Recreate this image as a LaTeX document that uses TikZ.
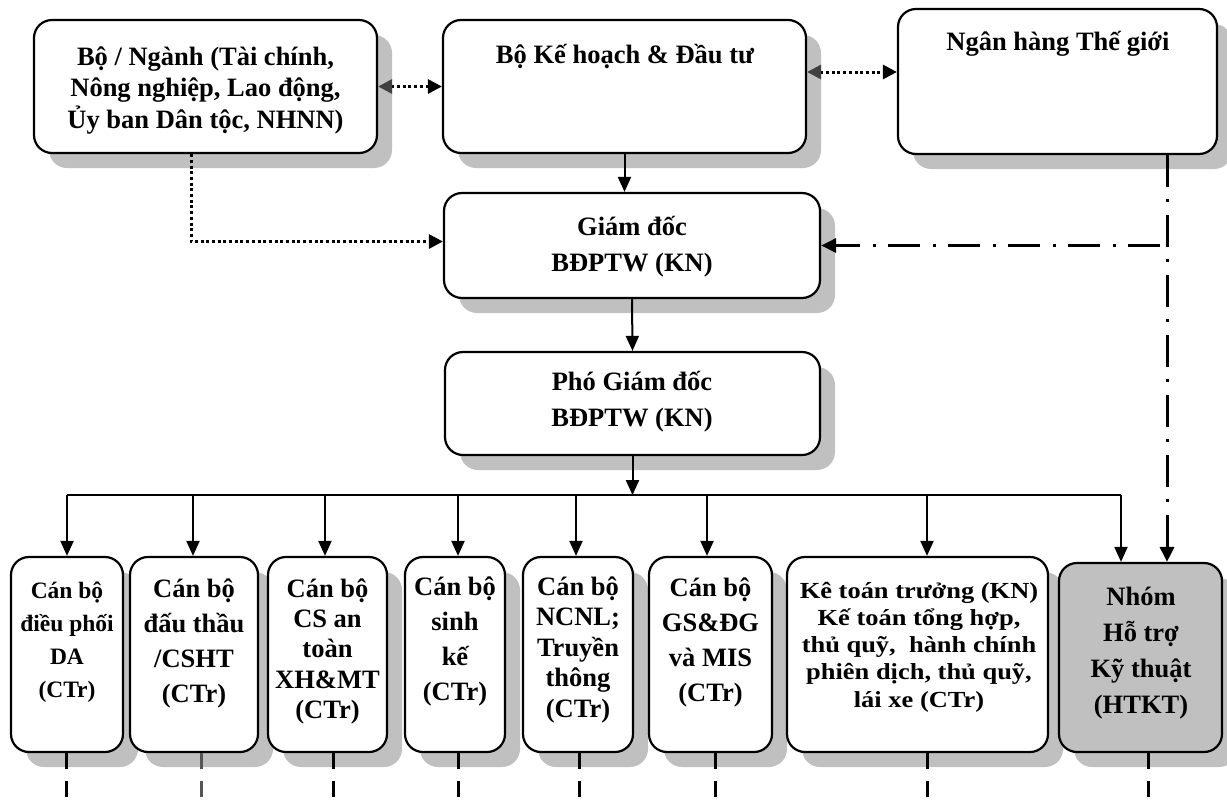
\documentclass[tikz,border=0pt]{standalone}
\usepackage{fontspec}
\usepackage{graphicx}
\setmainfont{Liberation Serif}
\newfontfamily\widefont[FakeStretch=1.15]{Liberation Serif}
\usetikzlibrary{arrows.meta,shadows}
\definecolor{shadowgray}{HTML}{C0C0C0}
\definecolor{tipgray}{HTML}{404040}
\definecolor{linegray}{HTML}{555555}
% strut that fixes the top of the first text line
\newcommand\fl{\vrule height 26pt depth 0pt width 0pt\relax}
\newcommand\fsz[2]{\bfseries\fontsize{#1}{#2}\selectfont}
\begin{document}
\begin{tikzpicture}[x=1pt,y=-1pt,
  box/.style={draw, line width=2.2pt, rounded corners=18pt, fill=white, inner sep=0pt,
    drop shadow={shadow xshift=15pt, shadow yshift=-15pt, fill=shadowgray, opacity=1}},
  lbl/.style={anchor=north, inner sep=0pt, align=center},
  arr/.style={line width=2pt, -{Triangle[length=15pt,width=13pt]}},
  bus/.style={line width=2pt},
  dots/.style={line width=3pt, dash pattern=on 3pt off 2.7pt},
  dotarr/.style={dots, -{Triangle[length=14pt,width=14pt]}},
  twoway/.style={dots, {Triangle[length=14pt,width=14pt,color=tipgray]}-{Triangle[length=14pt,width=14pt]}},
  dashdot/.style={line width=3pt, dash pattern=on 32pt off 12pt on 3pt off 13pt},
  ddarr/.style={dashdot, -{Triangle[length=15pt,width=14pt]}},
  tail/.style={line width=3pt, dash pattern=on 16pt off 12pt},
  toptext/.style={font=\fsz{26.5}{31.5}},
  midtext/.style={font=\fsz{26.5}{36}},
]
\lineskiplimit=-40pt
\useasboundingbox (0,0) rectangle (1227,801);

% ---- upper level
\node[box, minimum width=343pt, minimum height=133pt] (b1) at (205.5,86.5) {};
\node[box, minimum width=363pt, minimum height=133pt] (kh) at (624.5,86.5) {};
\node[box, minimum width=319pt, minimum height=145pt] (wb) at (1057.5,81.5) {};
\node[box, minimum width=376pt, minimum height=105pt] (gd) at (632,245.5) {};
\node[box, minimum width=375pt, minimum height=103pt] (pgd) at (632.5,403.5) {};

\node[lbl, toptext] (tb1) at (205.5,39) {\fl Bộ / Ngành (Tài chính,\\ Nông nghiệp, Lao động,\\ Ủy ban Dân tộc, NHNN)};
\node[lbl, toptext] (tkh) at (625,37) {\fl Bộ Kế hoạch \& Đầu tư};
\node[lbl, toptext] (twb) at (1058,24) {\fl Ngân hàng Thế giới};
\node[lbl, midtext] (tgd) at (632,209) {\fl Giám đốc\\ BĐPTW (KN)};
\node[lbl, midtext] (tpgd) at (632,364) {\fl Phó Giám đốc\\ BĐPTW (KN)};

% ---- staff level
\node[box, minimum width=112pt, minimum height=195pt] (n1) at (67,654.5) {};
\node[box, minimum width=128pt, minimum height=195pt] (n2) at (194,654.5) {};
\node[box, minimum width=119pt, minimum height=195pt] (n3) at (327.5,654.5) {};
\node[box, minimum width=100pt, minimum height=195pt] (n4) at (455,654.5) {};
\node[box, minimum width=110pt, minimum height=195pt] (n5) at (578,654.5) {};
\node[box, minimum width=123pt, minimum height=195pt] (n6) at (710.5,654.5) {};
\node[box, minimum width=261pt, minimum height=195pt] (n7) at (917.5,654.5) {};
\node[box, fill=shadowgray, minimum width=163pt, minimum height=189pt] (n8) at (1140.5,657.5) {};

\node[lbl, font=\fsz{23.5}{33}] (t1) at (67,572)
  {\fl Cán bộ\\ điều phối\\ DA\\ (CTr)};
\node[lbl, font=\fsz{26.5}{35}] (t2) at (194,571)
  {\fl Cán bộ\\ đấu thầu\\ /CSHT\\ (CTr)};
\node[lbl, font=\fsz{26.5}{30.3}] (t3) at (327.5,571)
  {\fl Cán bộ\\ CS an\\ toàn\\ XH\&MT\\ (CTr)};
\node[lbl, font=\fsz{26.5}{35}] (t4) at (455,569)
  {\fl Cán bộ\\ sinh\\ kế\\ (CTr)};
\node[lbl, font=\fsz{26.5}{30.5}] (t5) at (578,569)
  {\fl Cán bộ\\ NCNL;\\ Truyền\\ thông\\ (CTr)};
\node[lbl, font=\fsz{26.5}{35}] (t6) at (710.5,570)
  {\fl Cán bộ\\ GS\&ĐG\\ và MIS\\ (CTr)};
\node[lbl, font=\widefont\fsz{23}{27.2}] (t7) at (919,572)
  {\fl Kê toán trưởng (KN)\\ Kế toán tổng hợp,\\ thủ quỹ, \ hành chính\\ phiên dịch, thủ quỹ,\\ lái xe (CTr)};
\node[lbl, font=\fsz{26.5}{36}] (t8) at (1141,579)
  {\fl Nhóm\\ Hỗ trợ\\ Kỹ thuật\\ (HTKT)};

% ---- links among the upper boxes
\draw[twoway] (b1.east) -- (kh.west);
\coordinate (k2) at ([yshift=14.5pt]kh.east);
\draw[twoway] (k2) -- (k2 -| wb.west);
\draw[dotarr] ([xshift=-14.5pt]b1.south) |- ([yshift=4pt]gd.west);
\draw[arr] (kh.south) -- (kh.south |- gd.north);
\draw[arr] (gd.south) -- (pgd.north);

% ---- World Bank supervision line
\coordinate (wbx) at ([xshift=109.5pt]wb.south);
\draw[ddarr] (wbx) -- (wbx |- n8.north);
\draw[ddarr] ([xshift=-7pt]wbx |- gd.east) -- (gd.east);

% ---- distribution bus to the staff boxes
\coordinate (busc) at ([yshift=-39pt]pgd.south);
\draw[arr] (pgd.south) -- (busc);
\coordinate (busl) at (n1.north |- busc);
\coordinate (busr) at ([xshift=-19.5pt]n8.north |- busc);
\draw[bus] (busl) -- (busr);
\foreach \n/\dx in {n1/0, n2/-1, n3/-2.5, n4/3, n5/-2, n6/-3.5, n7/9.5, n8/-19.5} {
  \coordinate (tp) at ([xshift=\dx pt]\n.north);
  \draw[arr] (tp |- busc) -- (tp);
}

% ---- lines continuing below the staff boxes
\foreach \n/\dx/\c in {n1/-1/black, n2/7/linegray, n3/5.5/black, n4/3/black, n5/1/black, n6/4.5/black, n7/9.5/black, n8/7.5/black} {
  \coordinate (bt) at ([xshift=\dx pt]\n.south);
  \draw[tail, draw=\c] (bt) -- ++(0,52);
}
\end{tikzpicture}
\end{document}
